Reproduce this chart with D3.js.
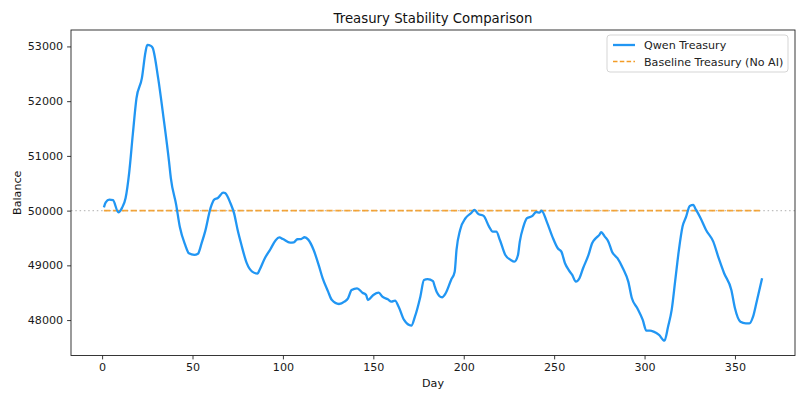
<!DOCTYPE html>
<html>
<head>
<meta charset="utf-8">
<script src="https://cdn.jsdelivr.net/npm/d3@7"></script>
<style>
  body { margin: 0; background: #fff; }
  svg { display: block; font-family: "DejaVu Sans", sans-serif; }
</style>
</head>
<body>
<svg id="chart" width="806" height="403"></svg>
<script>
// days and balances
const qwenDays = [
  1, 2, 4, 6, 9, 11, 13, 15, 17, 19, 22, 24, 25, 27, 28, 31, 34, 37, 38, 41,
  43, 46, 48, 51, 53, 55, 57, 60, 62, 64, 67, 68, 71, 73, 75, 77, 80, 83, 86, 87,
  90, 93, 96, 98, 100, 104, 106, 108, 110, 112, 114, 117, 120, 122, 125, 127, 131, 134, 136, 138,
  141, 144, 146, 147, 150, 153, 155, 158, 160, 162, 164, 167, 171, 173, 176, 178, 180, 183, 184, 185,
  188, 190, 193, 195, 196, 198, 201, 204, 206, 208, 211, 214, 216, 218, 220, 223, 226, 228, 230, 231,
  233, 235, 238, 240, 242, 243, 246, 249, 252, 254, 256, 258, 260, 262, 264, 266, 269, 271, 273, 275,
  276, 278, 280, 282, 285, 288, 291, 293, 296, 299, 301, 303, 305, 308, 311, 313, 315, 317, 319, 321,
  323, 325, 327, 328, 331, 334, 338, 341, 344, 348, 350, 353, 356, 358, 360, 362, 365
];
const qwenBalance = [
  50060, 50150, 50200, 50190, 49970, 50050, 50230, 50700, 51400, 52050, 52420, 52900, 53030, 53010, 52970, 52420, 51690, 50900, 50600, 50100,
  49700, 49370, 49220, 49190, 49210, 49400, 49620, 50050, 50200, 50230, 50330, 50320, 50135, 49950, 49640, 49380, 49040, 48885, 48850, 48910,
  49130, 49290, 49460, 49510, 49480, 49415, 49420, 49477, 49480, 49513, 49470, 49280, 48980, 48760, 48520, 48370, 48294, 48336, 48398, 48550,
  48581, 48500, 48459, 48367, 48459, 48501, 48428, 48380, 48336, 48355, 48245, 48002, 47898, 48062, 48428, 48733, 48750, 48710, 48611, 48519,
  48417, 48490, 48733, 48885, 49282, 49647, 49861, 49952, 50013, 49940, 49903, 49708, 49616, 49616, 49464, 49190, 49099, 49068, 49190, 49433,
  49708, 49861, 49903, 49975, 49965, 50000, 49790, 49525, 49312, 49250, 49038, 48916, 48824, 48702, 48764, 48947, 49190, 49404, 49495, 49556,
  49605, 49525, 49433, 49250, 49130, 48947, 48702, 48398, 48216, 48002, 47806, 47806, 47788, 47728, 47623, 47879, 48185, 48733, 49282, 49708,
  49890, 50086, 50104, 50044, 49861, 49647, 49433, 49130, 48856, 48550, 48216, 47971, 47941, 47941, 48062, 48336, 48764
];
const baselineDays = [1, 365];
const baselineBalance = [50000, 50000];
const referenceLevel = 50000;
const xTicks = [0, 50, 100, 150, 200, 250, 300, 350];
const yTicks = [48000, 49000, 50000, 51000, 52000, 53000];

const qwen = qwenDays.map((d, i) => ({ x: d, y: qwenBalance[i] }));
const baseline = baselineDays.map((d, i) => ({ x: d, y: baselineBalance[i] }));

const margin = { top: 30, right: 11, bottom: 47.5, left: 71 };
const svg = d3.select('#chart');
const width = +svg.attr('width') - margin.left - margin.right;
const height = +svg.attr('height') - margin.top - margin.bottom;

// matplotlib style 5% padding
const xMin = d3.min(qwenDays), xMax = d3.max(qwenDays);
const xPad = (xMax - xMin) * 0.05;
const yMin = d3.min(qwenBalance), yMax = d3.max(qwenBalance);
const yPad = (yMax - yMin) * 0.05;

const scaleX = d3.scaleLinear().domain([xMin - xPad, xMax + xPad]).range([0, width]);
const scaleY = d3.scaleLinear().domain([yMin - yPad, yMax + yPad]).range([height, 0]);

const g = svg.append('g').attr('transform', `translate(${margin.left},${margin.top})`);

// reference line across the whole axes
g.append('line')
  .attr('x1', 0).attr('x2', width)
  .attr('y1', scaleY(referenceLevel)).attr('y2', scaleY(referenceLevel))
  .attr('stroke', '#808080').attr('stroke-opacity', 0.5)
  .attr('stroke-width', 1.4).attr('stroke-dasharray', '1.5,2.8');

const line = d3.line().x(d => scaleX(d.x)).y(d => scaleY(d.y));
const smoothLine = d3.line().x(d => scaleX(d.x)).y(d => scaleY(d.y)).curve(d3.curveMonotoneX);

g.append('path').datum(baseline)
  .attr('d', line)
  .attr('fill', 'none')
  .attr('stroke', '#f39c26').attr('stroke-opacity', 0.9)
  .attr('stroke-width', 1.7).attr('stroke-dasharray', '6.2,2.7');

g.append('path').datum(qwen)
  .attr('d', smoothLine)
  .attr('fill', 'none')
  .attr('stroke', '#2196F3')
  .attr('stroke-width', 2.3)
  .attr('stroke-linejoin', 'round');

// axes
const xAxis = d3.axisBottom(scaleX).tickValues(xTicks).tickSize(3.9).tickPadding(4);
const yAxis = d3.axisLeft(scaleY).tickValues(yTicks).tickSize(3.9).tickPadding(4).tickFormat(d3.format('d'));

const gx = g.append('g').attr('transform', `translate(0,${height})`).call(xAxis);
const gy = g.append('g').call(yAxis);
[gx, gy].forEach(a => {
  a.select('.domain').remove();
  a.selectAll('text').attr('font-size', 11.1).attr('fill', '#1a1a1a').attr('font-family', 'DejaVu Sans');
  a.selectAll('line').attr('stroke', '#222').attr('stroke-width', 0.9);
});

g.append('rect')
  .attr('width', width).attr('height', height)
  .attr('fill', 'none').attr('stroke', '#222').attr('stroke-width', 0.9);

// labels
svg.append('text')
  .attr('x', margin.left + width / 2).attr('y', 23)
  .attr('text-anchor', 'middle').attr('font-size', 13.3).attr('fill', '#111')
  .text('Treasury Stability Comparison');

svg.append('text')
  .attr('x', margin.left + width / 2).attr('y', 387)
  .attr('text-anchor', 'middle').attr('font-size', 11.1).attr('fill', '#111')
  .text('Day');

svg.append('text')
  .attr('transform', `translate(21,${margin.top + height / 2}) rotate(-90)`)
  .attr('text-anchor', 'middle').attr('font-size', 11.1).attr('fill', '#111')
  .text('Balance');

// legend
const legend = g.append('g').attr('transform', `translate(${width - 188},5)`);
legend.append('rect')
  .attr('width', 181).attr('height', 37).attr('rx', 3)
  .attr('fill', '#fff').attr('fill-opacity', 0.8)
  .attr('stroke', '#d0d0d0').attr('stroke-width', 0.9);
const items = [
  { label: 'Qwen Treasury', color: '#2196F3', dash: null, w: 2.3 },
  { label: 'Baseline Treasury (No AI)', color: '#f39c26', dash: '4.5,2.3', w: 1.7 }
];
items.forEach((it, i) => {
  const y = 10 + i * 16.5;
  legend.append('line')
    .attr('x1', 6).attr('x2', 28).attr('y1', y).attr('y2', y)
    .attr('stroke', it.color).attr('stroke-width', it.w)
    .attr('stroke-dasharray', it.dash);
  legend.append('text')
    .attr('x', 37).attr('y', y + 4)
    .attr('font-size', 11.1).attr('fill', '#222')
    .text(it.label);
});
</script>
</body>
</html>
